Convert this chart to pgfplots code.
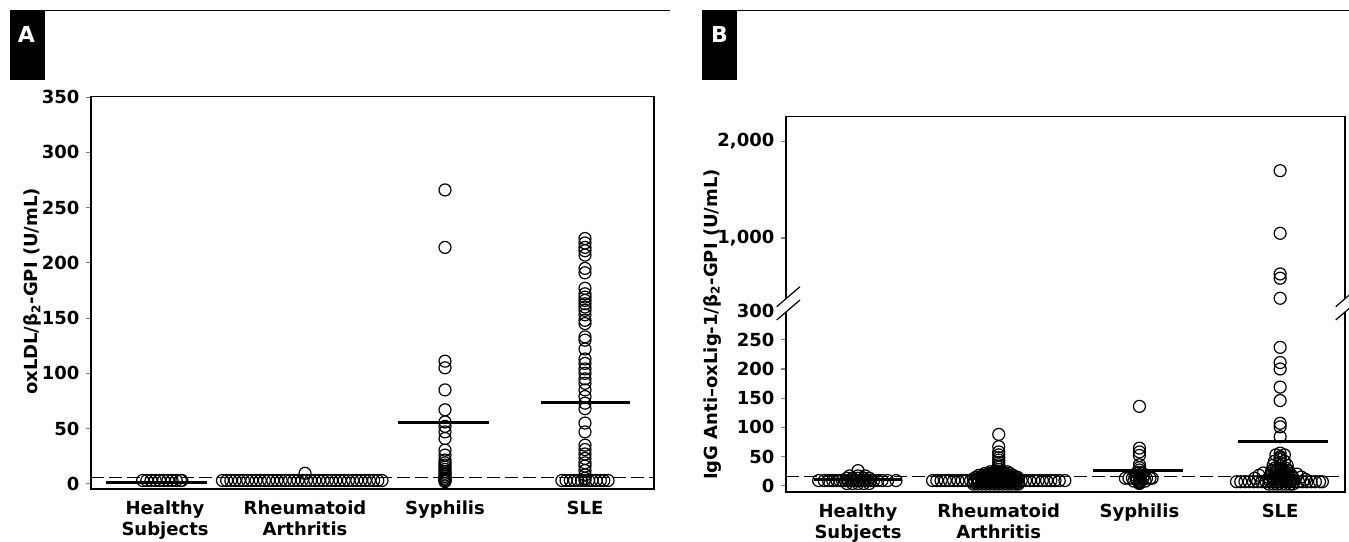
\documentclass[border=0pt]{standalone}
\usepackage{pgfplots}
\pgfplotsset{compat=1.18}
\usepackage{fontspec}
\setmainfont{DejaVu Sans}
\begin{document}
\begin{tikzpicture}[font=\fontsize{9}{11}\selectfont\bfseries]
\useasboundingbox (0,0) rectangle (674.5pt,270.5pt);
% panel headers
\fill[black] (5pt,230.5pt) rectangle (22.5pt,265.5pt);
\draw[line width=0.6pt] (22.5pt,265.2pt) -- (335pt,265.2pt);
\node[white,font=\fontsize{11}{12}\selectfont\bfseries] at (13.2pt,253.3pt) {A};
\fill[black] (351pt,230.5pt) rectangle (368.5pt,265.5pt);
\draw[line width=0.6pt] (368.5pt,265.2pt) -- (674.5pt,265.2pt);
\node[white,font=\fontsize{11}{12}\selectfont\bfseries] at (359.8pt,253.3pt) {B};

\pgfplotsset{
  myax/.style={
    scale only axis, anchor=south west,
    axis line style={line width=0.6pt},
    tick align=outside, major tick length=2.3pt,
    ytick pos=left,
    xtick={0,1,2,3},
    xtick style={draw=none},
    ytick style={line width=0.6pt},
    xticklabels={{Healthy\\Subjects},{Rheumatoid\\Arthritis},{Syphilis},{SLE}},
    xticklabel style={align=center,font=\fontsize{9}{10.5}\selectfont\bfseries},
    yticklabel style={font=\fontsize{9}{11}\selectfont\bfseries},
    /pgf/number format/assume math mode=true,
  },
  pts/.style={only marks, mark=o, mark size=3pt, black, mark options={line width=0.6pt}},
  med/.style={black, line width=1.5pt},
  cut/.style={black, line width=0.5pt, dash pattern=on 6.5pt off 2.5pt},
}

% ---------------- Panel A ----------------
\begin{axis}[myax,
  at={(45.5pt,26pt)}, width=281.5pt, height=196.25pt,
  xmin=-0.529, xmax=3.493, ymin=-4.7, ymax=350.6,
  ytick={0,50,100,150,200,250,300,350},
]
\addplot[cut] coordinates {(-0.529,6) (3.493,6)};
% Healthy subjects
\addplot[pts] coordinates {(-0.16,3)(-0.13,3)(-0.10,3)(-0.07,3)(-0.04,3)(-0.01,3)(0.02,3)(0.05,3)(0.08,3)(0.11,3)(0.12,3)};
% Rheumatoid arthritis
\addplot[pts] coordinates {(0.41,3)(0.44,3)(0.47,3)(0.50,3)(0.53,3)(0.56,3)(0.59,3)(0.62,3)(0.65,3)(0.68,3)(0.71,3)(0.74,3)(0.77,3)(0.80,3)(0.83,3)(0.86,3)(0.89,3)(0.92,3)(0.95,3)(0.98,3)(1.01,3)(1.04,3)(1.07,3)(1.10,3)(1.13,3)(1.16,3)(1.19,3)(1.22,3)(1.25,3)(1.28,3)(1.31,3)(1.34,3)(1.37,3)(1.40,3)(1.43,3)(1.46,3)(1.49,3)(1.52,3)(1.55,3)(1.0,9.5)};
% Syphilis
\addplot[pts] coordinates {(2,266)(2,214)(2,111)(2,105)(2,85)(2,67)(2,56)(2,52)(2,47)(2,41)(2,30.5)(2,26)(2,21.5)(2,19)(2,17)(2,15)(2,13)(2,11)(2,9.5)(2,8)(2,6.5)(2,5)(2,4)(2,3)(2,2)};
% SLE
\addplot[pts] coordinates {(3,222)(3,218)(3,214)(3,211)(3,207)(3,195)(3,191)(3,177)(3,172)(3,169)(3,166)(3,163)(3,160)(3,157)(3,153)(3,148)(3,145)(3,133)(3,130)(3,122)(3,113)(3,109)(3,104)(3,100)(3,95)(3,91)(3,85)(3,79)(3,73)(3,68)(3,55)(3,47)(3,35)(3,31)(3,27)(3,23)(3,19)(3,16)(3,12)(3,8)(3,5)
(2.835,3)(2.865,3)(2.895,3)(2.925,3)(2.95,3)(2.975,3)(3.0,3)(3.025,3)(3.05,3)(3.08,3)(3.11,3)(3.135,3)(3.165,3)};
% medians
\addplot[med] coordinates {(-0.42,1.5)(0.30,1.5)};
\addplot[med] coordinates {(1.664,55.8)(2.314,55.8)};
\addplot[med] coordinates {(2.686,73.6)(3.321,73.6)};
\end{axis}
\node[rotate=90] at (16.25pt,124.75pt) {oxLDL/β\textsubscript{2}-GPI (U/mL)};

% ---------------- Panel B ----------------
\begin{axis}[myax,
  at={(393pt,24.5pt)}, width=279.5pt, height=187.8pt,
  xmin=-0.512, xmax=3.461, ymin=-10.6, ymax=2256,
  y coord trafo/.code={\pgfmathparse{#1>300 ? 308.3+(#1-300)*0.1657 : #1}},
  y coord inv trafo/.code={\pgfmathparse{#1>308.3 ? 300+(#1-308.3)/0.1657 : #1}},
  ytick={0,50,100,150,200,250,300,1000,2000},
  yticklabels={0,50,100,150,200,250,300,{1,000},{2,000}},
]
\addplot[cut] coordinates {(-0.512,16) (3.461,16)};
% Healthy subjects
\addplot[pts] coordinates {(-0.28,9)(-0.24,9)(-0.21,9)(-0.18,9)(-0.15,9)(-0.13,9)(-0.11,9)(-0.09,9)(-0.07,9)(-0.05,9)(-0.03,9)(-0.01,9)(0.01,9)(0.03,9)(0.05,9)(0.07,9)(0.09,9)(0.11,9)(0.14,9)(0.17,9)(0.21,9)(0.27,9)
(-0.08,4)(-0.04,4)(0,4)(0.04,4)(0.08,4)(-0.08,13)(-0.04,13)(0,13)(0.04,13)(0.08,13)(-0.06,17)(0,17)(0.05,17)(0,26)};
% Rheumatoid arthritis
\addplot[pts] coordinates {(0.53,9)(0.56,9)(0.59,9)(0.62,9)(0.65,9)(0.68,9)(0.71,9)(0.74,9)(0.77,9)(0.80,9)(0.83,9)(0.86,9)(0.89,9)(0.92,9)(0.95,9)(0.98,9)(1.01,9)(1.04,9)(1.07,9)(1.10,9)(1.13,9)(1.16,9)(1.19,9)(1.22,9)(1.25,9)(1.28,9)(1.31,9)(1.34,9)(1.37,9)(1.40,9)(1.43,9)(1.47,9)
(0.82,3)(0.85,3)(0.88,3)(0.91,3)(0.94,3)(0.97,3)(1.00,3)(1.03,3)(1.06,3)(1.09,3)(1.12,3)(1.14,3)
(0.82,6)(0.85,6)(0.88,6)(0.91,6)(0.94,6)(0.97,6)(1.00,6)(1.03,6)(1.06,6)(1.09,6)(1.12,6)(1.14,6)
(0.82,12)(0.85,12)(0.88,12)(0.91,12)(0.94,12)(0.97,12)(1.00,12)(1.03,12)(1.06,12)(1.09,12)(1.12,12)(1.14,12)
(0.84,15)(0.87,15)(0.90,15)(0.93,15)(0.96,15)(0.99,15)(1.02,15)(1.05,15)(1.08,15)(1.11,15)(1.13,15)
(0.86,18)(0.89,18)(0.92,18)(0.95,18)(0.98,18)(1.01,18)(1.04,18)(1.07,18)(1.10,18)
(0.90,21)(0.93,21)(0.96,21)(0.99,21)(1.02,21)(1.05,21)(1.08,21)
(0.94,24)(0.97,24)(1.00,24)(1.03,24)(1.06,24)
(1,88)(1,67)(1,58)(1,53)(1,48)(1,44)(1,40)(1,36)(1,32)(1,28)};
% Syphilis
\addplot[pts] coordinates {(2,136)(2,64.5)(2,58)(2,52)(2,36)(2,31)(2,27)(2,23)(2,19)(2,16)(2,10)(2,7)(2,5)
(1.90,13)(1.925,13)(1.95,13)(1.975,13)(2.0,13)(2.025,13)(2.05,13)(2.075,13)(2.09,13)
(1.96,8)(2.0,8)(2.04,8)(1.97,18)(2.03,18)(1.98,22)(2.02,22)(2.0,4)};
% SLE
\addplot[pts] coordinates {(3,1695)(3,1048)(3,628)(3,584)(3,377)(3,237)(3,211)(3,200)(3,169)(3,146)(3,107)(3,101)(3,84)(3,56)(3,50)(3,45)(3,40)
(2.69,7)(2.72,7)(2.75,7)(2.78,7)(2.81,7)(2.84,7)(2.87,7)(2.90,7)(2.93,7)(2.96,7)(3.0,7)(3.04,7)(3.07,7)(3.10,7)(3.13,7)(3.16,7)(3.19,7)(3.22,7)(3.25,7)(3.28,7)(3.30,7)
(2.82,13)(2.85,18)(2.88,22)(3.12,20)(3.15,15)(3.18,11)
(2.92,3)(2.95,3)(2.98,3)(3.01,3)(3.04,3)(3.07,3)(3.09,3)
(2.92,10)(2.95,10)(2.98,10)(3.01,10)(3.04,10)(3.07,10)(3.09,10)
(2.92,14)(2.95,14)(2.98,14)(3.01,14)(3.04,14)(3.07,14)(3.09,14)
(2.93,18)(2.96,18)(2.99,18)(3.02,18)(3.05,18)(3.08,18)
(2.94,22)(2.97,22)(3.00,22)(3.03,22)(3.06,22)
(2.94,26)(2.97,26)(3.00,26)(3.03,26)(3.06,26)
(2.96,30)(3.00,30)(3.04,30)
(2.95,35)(3.0,35)(3.05,35)
(2.96,42)(3.03,42)(3.0,48)(2.97,53)(3.03,53)};
% medians
\addplot[med] coordinates {(-0.31,11)(0.31,11)};
\addplot[med] coordinates {(1.67,27)(2.31,27)};
\addplot[med] coordinates {(2.70,76.5)(3.34,76.5)};
\end{axis}
\node[rotate=90] at (356pt,108.3pt) {IgG Anti--oxLig-1/β\textsubscript{2}-GPI (U/mL)};
% axis break marks
\fill[white] (389.5pt,114.5pt) rectangle (395pt,121.15pt);
\fill[white] (670pt,114.5pt) rectangle (675pt,121.15pt);
\draw[line width=0.6pt] (388.35pt,117.15pt) -- (400pt,127.15pt);
\draw[line width=0.6pt] (388.35pt,110.5pt) -- (400pt,120.5pt);
\draw[line width=0.6pt] (667.85pt,117.15pt) -- (679.5pt,127.15pt);
\draw[line width=0.6pt] (667.85pt,110.5pt) -- (679.5pt,120.5pt);
\end{tikzpicture}
\end{document}
